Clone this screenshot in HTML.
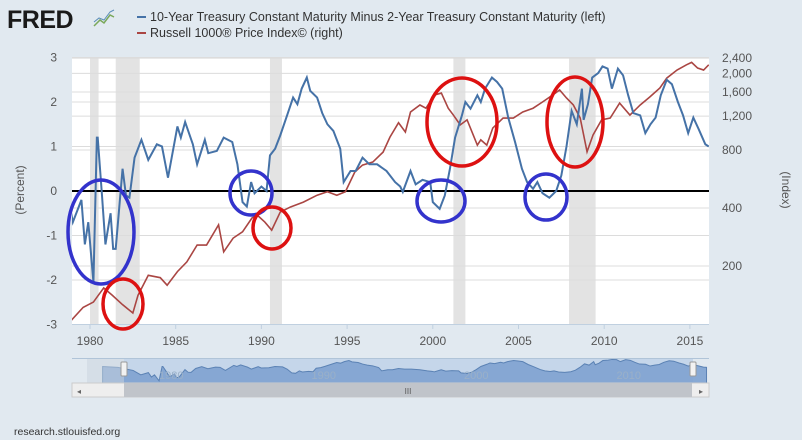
<!DOCTYPE html>
<html><head><meta charset="utf-8">
<style>
body{margin:0;background:#e1e9f0;}
svg{display:block;font-family:"Liberation Sans",sans-serif;}
</style></head>
<body>
<svg id="c" width="802" height="440" viewBox="0 0 802 440">
<rect x="0" y="0" width="802" height="440" fill="#e1e9f0"/>
<g>
<text x="7" y="28" font-size="25" font-weight="bold" fill="#1a1a1a" style="letter-spacing:-0.5px">FRED</text>
<polyline points="94,26 100,20 104,23 110,15 114,17" fill="none" stroke="#7aa85a" stroke-width="1.5"/>
<polyline points="94,22 99,18 104,20 110,12 114,10" fill="none" stroke="#5b8db8" stroke-width="1"/>
</g>
<g font-size="12.5" fill="#333">
<line x1="137" y1="17" x2="146" y2="17" stroke="#4572a7" stroke-width="2"/>
<text x="150" y="21">10-Year Treasury Constant Maturity Minus 2-Year Treasury Constant Maturity (left)</text>
<line x1="137" y1="33" x2="146" y2="33" stroke="#aa4643" stroke-width="2"/>
<text x="150" y="37">Russell 1000® Price Index© (right)</text>
</g>
<rect x="72" y="57" width="637" height="267" fill="#fff"/>
<g id="rec"></g>
<g id="grid"></g>
<g id="axes"></g>
<defs><clipPath id="clip"><rect x="72" y="57" width="637" height="267"/></clipPath></defs>
<g id="series" clip-path="url(#clip)"></g>
<text x="24" y="190" font-size="12" fill="#555" text-anchor="middle" transform="rotate(-90 24 190)">(Percent)</text>
<text x="782" y="190" font-size="12" fill="#555" text-anchor="middle" transform="rotate(90 782 190)">(Index)</text>
<g id="nav"></g>
<text x="14" y="435" font-size="10.5" fill="#333">research.stlouisfed.org</text>
</svg>
<script>
const spreadYears=[1976.5,1977.5,1978.5,1979.0,1979.5,1979.7,1979.9,1980.2,1980.4,1980.45,1980.7,1980.9,1981.2,1981.35,1981.5,1981.9,1982.1,1982.3,1982.6,1983.0,1983.4,1983.9,1984.2,1984.55,1985.1,1985.3,1985.55,1986.0,1986.25,1986.7,1986.9,1987.4,1987.8,1988.3,1988.6,1988.9,1989.15,1989.4,1989.6,1990.0,1990.3,1990.5,1990.8,1991.1,1991.5,1991.85,1992.1,1992.35,1992.65,1992.85,1993.25,1993.55,1993.85,1994.2,1994.6,1994.8,1995.2,1995.5,1995.9,1996.3,1996.75,1997.3,1997.8,1998.1,1998.25,1998.7,1999.0,1999.4,1999.85,2000.0,2000.4,2000.7,2001.0,2001.3,2001.7,2001.9,2002.2,2002.6,2002.8,2003.05,2003.45,2003.75,2004.05,2004.4,2004.8,2005.2,2005.5,2005.85,2006.1,2006.4,2006.8,2007.2,2007.5,2007.8,2008.1,2008.4,2008.7,2008.8,2009.05,2009.3,2009.65,2009.9,2010.2,2010.45,2010.8,2011.1,2011.4,2011.7,2012.1,2012.4,2012.7,2013.0,2013.3,2013.65,2013.95,2014.3,2014.6,2014.9,2015.2,2015.5,2015.9,2016.1];
const spreadValues=[1.2,1.0,0.3,-0.7,-0.2,-1.2,-0.7,-2.05,1.2,1.2,-0.1,-1.2,-0.5,-1.3,-1.3,0.5,-0.1,-0.15,0.75,1.15,0.7,1.05,1.0,0.3,1.45,1.2,1.55,1.05,0.6,1.15,0.85,0.9,1.2,1.1,0.6,-0.25,-0.35,0.2,-0.05,0.1,0,0.8,0.95,1.25,1.7,2.1,1.95,2.3,2.55,2.25,2.1,1.75,1.5,1.35,0.95,0.2,0.45,0.45,0.75,0.6,0.6,0.45,0.2,0.1,-0.02,0.45,0.15,0.25,0.2,-0.25,-0.4,-0.1,0.5,1.2,1.7,2.0,1.85,2.15,2.0,2.3,2.55,2.45,2.3,1.65,1.1,0.5,0.2,0.05,0.2,-0.05,-0.15,0.0,0.35,1.0,1.8,1.5,2.3,1.6,1.95,2.55,2.65,2.8,2.75,2.3,2.75,2.6,2.15,1.75,1.7,1.3,1.5,1.65,2.15,2.5,2.4,2.0,1.7,1.3,1.65,1.4,1.05,1.0];
const russellYears=[1978.8,1979.6,1980.2,1980.8,1981.3,1981.9,1982.5,1982.8,1983.4,1984.1,1984.5,1985.1,1985.65,1986.25,1986.8,1987.5,1987.8,1988.35,1988.9,1989.45,1989.75,1990.2,1990.6,1991.1,1991.7,1992.45,1993.25,1993.85,1994.4,1994.9,1995.45,1995.9,1996.5,1997.1,1997.5,1998.0,1998.4,1998.7,1999.25,1999.6,2000.1,2000.5,2000.9,2001.2,2001.6,2002.0,2002.6,2002.8,2003.15,2003.5,2004.1,2004.7,2005.25,2005.85,2006.4,2007.0,2007.4,2007.8,2008.2,2008.6,2009.0,2009.35,2009.85,2010.35,2010.9,2011.5,2012.1,2012.65,2013.25,2013.65,2014.25,2014.8,2015.1,2015.45,2015.8,2016.1];
const russellValues=[102,122,130,154,141,126,114,141,179,174,159,187,210,257,257,327,237,279,301,355,368,338,307,381,405,429,466,486,466,486,615,668,693,780,933,1108,992,1260,1370,1318,1545,1580,1318,1215,1080,1147,848,903,848,1040,1172,1172,1260,1318,1420,1545,1640,1490,1370,1172,783,958,1147,1172,1402,1215,1370,1505,1680,1890,2080,2215,2280,2130,2080,2215];
const leftTicks=[3,2,1,0,-1,-2,-3];
const rightTicks=[2400,2000,1600,1200,800,400,200];
const xTicks=[1980,1985,1990,1995,2000,2005,2010,2015];
const recessionStarts=[1980.0,1981.5,1990.5,2001.2,2007.95];
const recessionEnds=[1980.5,1982.9,1991.2,2001.9,2009.5];
const navLabels=[1980,1990,2000,2010];

const NS='http://www.w3.org/2000/svg';
function mk(tag,attrs,parent){const e=document.createElementNS(NS,tag);for(const k in attrs)e.setAttribute(k,attrs[k]);parent.appendChild(e);return e;}
const X=y=>90+(y-1980)*17.14;
const YL=v=>191-v*44.5;
const YR=v=>150-58*Math.log2(v/800);
const NX=y=>156+(y-1980)*15.25;
const NY=v=>381-(v+2.1)*4.4;

const rec=document.getElementById('rec');
for(let i=0;i<recessionStarts.length;i++){
  const r=mk('rect',{x:X(recessionStarts[i]),y:57,width:X(recessionEnds[i])-X(recessionStarts[i]),height:267,fill:'#e3e3e3'},rec);
  
  
}
const grid=document.getElementById('grid');
leftTicks.forEach(t=>{
  if(t!==0){const l=mk('line',{x1:72,x2:709,y1:YL(t),y2:YL(t),stroke:'#dcdcdc','stroke-width':1},grid);
  
  }
});
rightTicks.forEach(t=>{
  const l=mk('line',{x1:72,x2:709,y1:YR(t),y2:YR(t),stroke:'#dcdcdc','stroke-width':1},grid);
  
  
});
const axes=document.getElementById('axes');
leftTicks.forEach(t=>{
  const tx=mk('text',{x:57,y:YL(t)+4,'font-size':12,fill:'#555','text-anchor':'end'},axes);
  tx.textContent=t;
  
  
});
rightTicks.forEach(t=>{
  const tx=mk('text',{x:722,y:YR(t)+4,'font-size':12,fill:'#555'},axes);
  tx.textContent=t.toLocaleString('en-US');
  
  
});
mk('line',{x1:72,x2:709,y1:324.5,y2:324.5,stroke:'#c0d0e0'},axes);
xTicks.forEach(t=>{
  mk('line',{x1:X(t),x2:X(t),y1:324,y2:329,stroke:'#c0d0e0'},axes);
  const tx=mk('text',{x:X(t),y:345,'font-size':12,fill:'#555','text-anchor':'middle'},axes);
  tx.textContent=t;
  
  
});
const ser=document.getElementById('series');
const zl=mk('line',{x1:72,x2:709,y1:YL(0),y2:YL(0),stroke:'#000','stroke-width':2},ser);


const rp=mk('polyline',{points:russellYears.map((y,i)=>X(y)+','+YR(russellValues[i])).join(' '),fill:'none',stroke:'#aa4643','stroke-width':1.6},ser);


const sp=mk('polyline',{points:spreadYears.map((y,i)=>X(y)+','+YL(spreadValues[i])).join(' '),fill:'none',stroke:'#4572a7','stroke-width':2},ser);


const circ=[[101,232,33,52,'#3333cc'],[251,193,21,22,'#3333cc'],[123,304,20,25,'#dd1111'],[272,228,19,21,'#dd1111'],[441,201,24,21,'#3333cc'],[546,197,21,23,'#3333cc'],[462,122,35,44,'#dd1111'],[575,122,28,45,'#dd1111']];
circ.forEach(c=>{
  const e=mk('ellipse',{cx:c[0],cy:c[1],rx:c[2],ry:c[3],fill:'none',stroke:c[4],'stroke-width':3.5},document.getElementById('c'));
  
  
});
const nav=document.getElementById('nav');
mk('line',{x1:72,x2:709,y1:358.5,y2:358.5,stroke:'#b0c4d8'},nav);
const sel=mk('rect',{x:124,y:359,width:569,height:24,fill:'#c5d6ea'},nav);


const navPts=spreadYears.map((y,i)=>NX(y)+','+NY(spreadValues[i])).join(' ');
const na=mk('polygon',{points:NX(spreadYears[0])+',383 '+navPts+' '+NX(2016.1)+',383',fill:'#7ea2d0',stroke:'#5b82b4','stroke-width':1,'fill-opacity':0.9},nav);


mk('rect',{x:87,y:359,width:37,height:24,fill:'#c9d3de','fill-opacity':0.5},nav);
navLabels.forEach(t=>{
  const tx=mk('text',{x:NX(t)+3,y:379,'font-size':11,fill:'#9ab0c8'},nav);
  tx.textContent=t;
  
  
});
[124,693].forEach(x=>{
  const h=mk('rect',{x:x-3,y:362,width:6,height:14,fill:'#f2f2f2',stroke:'#999',rx:1},nav);
  
  
});
mk('rect',{x:72,y:383,width:637,height:14,fill:'#eeeeee',stroke:'#ccc'},nav);
const th=mk('rect',{x:124,y:383,width:568,height:14,fill:'#c0c4ca'},nav);


mk('text',{x:408,y:394,'font-size':8,fill:'#555','text-anchor':'middle'},nav).textContent='III';
const lb=mk('text',{x:79,y:394,'font-size':8,fill:'#666','text-anchor':'middle'},nav);lb.textContent='◂';


const rb=mk('text',{x:701,y:394,'font-size':8,fill:'#666','text-anchor':'middle'},nav);rb.textContent='▸';


</script>
</body></html>
